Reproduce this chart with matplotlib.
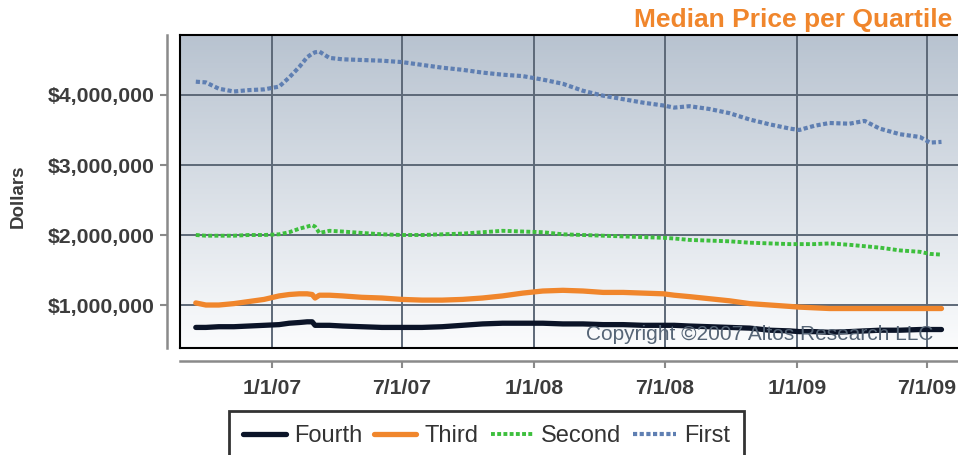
import numpy as np
import pandas as pd
import matplotlib
matplotlib.use("Agg")
import matplotlib.pyplot as plt
import matplotlib.dates as mdates
from matplotlib.ticker import FuncFormatter

plt.rcParams["font.family"] = ["Liberation Sans", "DejaVu Sans"]

# sample dates
dates = pd.to_datetime([
    "2006-09-17", "2006-10-01", "2006-10-19", "2006-11-09", "2006-11-30", "2006-12-21",
    "2007-01-11", "2007-01-25", "2007-02-08", "2007-02-19", "2007-02-26", "2007-03-02",
    "2007-03-08", "2007-03-22", "2007-04-09", "2007-05-06", "2007-06-03", "2007-07-01",
    "2007-07-29", "2007-08-26", "2007-09-23", "2007-10-21", "2007-11-18", "2007-12-16",
    "2008-01-13", "2008-02-10", "2008-03-09", "2008-04-06", "2008-05-04", "2008-06-01",
    "2008-06-29", "2008-07-14", "2008-08-04", "2008-09-01", "2008-09-29", "2008-10-27",
    "2008-11-24", "2008-12-22", "2009-01-04", "2009-01-25", "2009-02-15", "2009-03-15",
    "2009-04-05", "2009-04-26", "2009-05-24", "2009-06-21", "2009-07-05", "2009-07-21",
])

# median prices in millions of dollars
first = [
    4.19, 4.18, 4.09, 4.05, 4.07, 4.08, 4.12, 4.25, 4.40, 4.54, 4.59, 4.61,
    4.62, 4.53, 4.51, 4.50, 4.49, 4.47, 4.43, 4.39, 4.36, 4.32, 4.29, 4.27,
    4.22, 4.16, 4.06, 3.99, 3.94, 3.89, 3.85, 3.82, 3.84, 3.80, 3.74, 3.65,
    3.58, 3.52, 3.50, 3.56, 3.60, 3.59, 3.63, 3.52, 3.44, 3.40, 3.32, 3.33,
]
second = [
    2.00, 1.99, 1.99, 1.99, 2.00, 2.00, 2.01, 2.04, 2.09, 2.12, 2.14, 2.12,
    2.03, 2.06, 2.05, 2.03, 2.01, 2.00, 2.00, 2.01, 2.02, 2.04, 2.06, 2.05,
    2.04, 2.01, 2.00, 1.99, 1.98, 1.97, 1.96, 1.95, 1.93, 1.92, 1.91, 1.89,
    1.88, 1.87, 1.87, 1.87, 1.88, 1.86, 1.84, 1.82, 1.78, 1.76, 1.73, 1.72,
]
third = [
    1.03, 1.00, 1.00, 1.02, 1.05, 1.08, 1.13, 1.15, 1.16, 1.16, 1.15, 1.10,
    1.14, 1.14, 1.13, 1.11, 1.10, 1.08, 1.07, 1.07, 1.08, 1.10, 1.13, 1.17,
    1.20, 1.21, 1.20, 1.18, 1.18, 1.17, 1.16, 1.14, 1.12, 1.09, 1.06, 1.02,
    1.00, 0.98, 0.97, 0.96, 0.95, 0.95, 0.95, 0.95, 0.95, 0.95, 0.95, 0.95,
]
fourth = [
    0.68, 0.68, 0.69, 0.69, 0.70, 0.71, 0.72, 0.74, 0.75, 0.76, 0.76, 0.71,
    0.71, 0.71, 0.70, 0.69, 0.68, 0.68, 0.68, 0.69, 0.71, 0.73, 0.74, 0.74,
    0.74, 0.73, 0.73, 0.72, 0.72, 0.71, 0.71, 0.71, 0.70, 0.69, 0.68, 0.67,
    0.64, 0.63, 0.62, 0.62, 0.61, 0.62, 0.63, 0.64, 0.64, 0.65, 0.65, 0.65,
]

xticks = pd.to_datetime(["2007-01-01", "2007-07-01", "2008-01-01", "2008-07-01",
                         "2009-01-01", "2009-07-01"])
yticks = [1e6, 2e6, 3e6, 4e6]

fig = plt.figure(figsize=(9.58, 4.55), dpi=100)
ax = fig.add_axes([180 / 958, 107 / 455, 778 / 958, 313 / 455])

# gradient background
grad = np.linspace(0, 1, 256).reshape(-1, 1)
cmap = matplotlib.colors.LinearSegmentedColormap.from_list("bg", ["#fbfcfd", "#b8c3d0"])
ax.imshow(grad, extent=[0, 1, 0, 1], transform=ax.transAxes, aspect="auto",
          cmap=cmap, origin="lower", zorder=0)

scale = 1e6
ax.plot(dates, np.array(fourth) * scale, color="#0b1428", lw=3.8,
        solid_capstyle="round", label="Fourth", zorder=3)
ax.plot(dates, np.array(third) * scale, color="#f0862c", lw=3.8,
        solid_capstyle="round", label="Third", zorder=3)
ax.plot(dates, np.array(second) * scale, color="#3dbf3d", lw=2.8,
        linestyle=(0, (1, 0.6)), label="Second", zorder=3)
ax.plot(dates, np.array(first) * scale, color="#5f7fb2", lw=3.0,
        linestyle=(0, (1, 0.6)), label="First", zorder=3)

ax.set_xlim(pd.Timestamp("2006-08-26"), pd.Timestamp("2009-08-13"))
ax.set_ylim(0.386e6, 4.857e6)

ax.set_xticks(xticks)
ax.xaxis.set_major_formatter(FuncFormatter(
    lambda v, p: "{d.month}/{d.day}/{y}".format(d=mdates.num2date(v), y=mdates.num2date(v).strftime("%y"))))
ax.set_yticks(yticks)
ax.yaxis.set_major_formatter(FuncFormatter(lambda v, p: "${:,.0f}".format(v)))

ax.grid(True, color="#5d6978", lw=1.4)
ax.set_axisbelow(True)

for side in ["left", "bottom"]:
    ax.spines[side].set_position(("outward", 9.4))
    ax.spines[side].set_color("#8a8a8a")
    ax.spines[side].set_linewidth(1.8)
ax.spines["right"].set_visible(False)
ax.spines["top"].set_visible(False)

# black frame at the plot edge
ax.plot([0, 0], [0, 1], transform=ax.transAxes, color="black", lw=1.5, clip_on=False, zorder=4)
ax.plot([0, 1], [0, 0], transform=ax.transAxes, color="black", lw=1.5, clip_on=False, zorder=4)
ax.plot([0, 1], [1, 1], transform=ax.transAxes, color="black", lw=1.5, clip_on=False, zorder=4)

ax.tick_params(axis="both", colors="#8a8a8a", length=5, width=1.5)
for lab in ax.get_xticklabels() + ax.get_yticklabels():
    lab.set_color("#3c3c3c")
    lab.set_fontweight("bold")
    lab.set_fontsize(15.3)
ax.tick_params(axis="x", pad=8)
ax.tick_params(axis="y", pad=4)

fig.text(18 / 958, 1 - 196 / 455, "Dollars", rotation=90, ha="center", va="center",
         fontsize=13.5, fontweight="bold", color="#3c3c3c")

fig.text(952 / 958, 1 - 20 / 455, "Median Price per Quartile", ha="right", va="center",
         fontsize=19, fontweight="bold", color="#f0862c")

ax.text((933 - 180) / 778, (348 - 335) / 313, "Copyright \u00a92007 Altos Research LLC",
        transform=ax.transAxes, ha="right", va="center", fontsize=15,
        color="#566576", zorder=5)

leg = fig.legend(loc="upper left", bbox_to_anchor=(229 / 958, 1 - 411 / 455), ncol=4,
                 fontsize=17, frameon=True, fancybox=False, handlelength=1.8,
                 handletextpad=0.35, columnspacing=0.5, borderpad=0.6,
                 borderaxespad=0)
leg.get_frame().set_edgecolor("black")
leg.get_frame().set_linewidth(2)
for t in leg.get_texts():
    t.set_color("#333333")

fig.savefig("out.png", dpi=100)
